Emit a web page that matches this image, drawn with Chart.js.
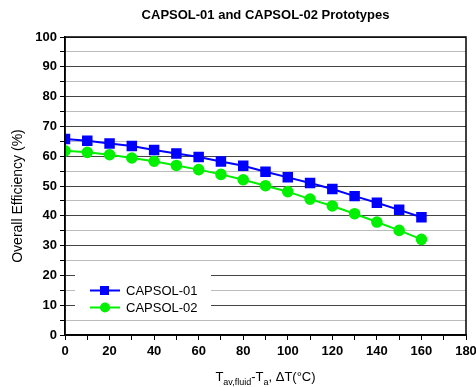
<!DOCTYPE html>
<html>
<head>
<meta charset="utf-8">
<script src="https://cdn.jsdelivr.net/npm/chart.js@4/dist/chart.umd.min.js"></script>
<style>
  html, body { margin: 0; padding: 0; background: #fff; }
  #wrap { width: 476px; height: 387px; }
</style>
</head>
<body>
<div id="wrap"><canvas id="myChart" width="476" height="387"></canvas></div>
<script>
// data
var deltaT = [0, 10, 20, 30, 40, 50, 60, 70, 80, 90, 100, 110, 120, 130, 140, 150, 160];
var capsol01 = [65.8, 65.2, 64.3, 63.4, 62.1, 60.9, 59.7, 58.2, 56.8, 54.8, 52.9, 51.0, 49.0, 46.6, 44.4, 42.0, 39.5];
var capsol02 = [61.8, 61.3, 60.5, 59.4, 58.3, 56.9, 55.5, 53.9, 52.1, 50.1, 48.1, 45.6, 43.3, 40.7, 37.9, 35.1, 32.1];
var seriesNames = ['CAPSOL-01', 'CAPSOL-02'];
var titleText = 'CAPSOL-01 and CAPSOL-02 Prototypes';
var yTitle = 'Overall Efficiency (%)';

var FONT = "Arial, 'Liberation Sans', Helvetica, sans-serif";

function toPoints(vals) {
    return vals.map(function (v, i) { return { x: deltaT[i], y: v }; });
}

// frame, legend box and axis titles (x one has subscripts)
var extras = {
    id: 'extras',
    afterDraw: function (chart) {
        var ctx = chart.ctx;
        var a = chart.chartArea;
        ctx.save();
        ctx.strokeStyle = '#000';
        ctx.lineWidth = 1.5;
        ctx.strokeRect(a.left, a.top, a.right - a.left, a.bottom - a.top);

        // legend
        ctx.fillStyle = '#fff';
        ctx.fillRect(a.left + 10, a.top + 237, 136, 42);
        chart.data.datasets.forEach(function (ds, i) {
            var y = a.top + 253.5 + i * 17;
            var x0 = a.left + 25, x1 = a.left + 55;
            ctx.strokeStyle = ds.borderColor;
            ctx.lineWidth = 2;
            ctx.beginPath();
            ctx.moveTo(x0, y);
            ctx.lineTo(x1, y);
            ctx.stroke();
            ctx.fillStyle = ds.backgroundColor;
            if (ds.pointStyle === 'rect') {
                ctx.fillRect(x0 + 10, y - 4.5, 9, 9);
            } else {
                ctx.beginPath();
                ctx.arc(x0 + 15, y, 5, 0, Math.PI * 2);
                ctx.fill();
            }
            ctx.fillStyle = '#000';
            ctx.font = '13px ' + FONT;
            ctx.textBaseline = 'middle';
            ctx.textAlign = 'left';
            ctx.fillText(ds.label, x1 + 6, y + 1);
        });

        // y axis title
        ctx.save();
        ctx.translate(18, 196);
        ctx.rotate(-Math.PI / 2);
        ctx.font = '14px ' + FONT;
        ctx.textAlign = 'center';
        ctx.textBaseline = 'middle';
        ctx.fillStyle = '#000';
        ctx.fillText(yTitle, 0, 0);
        ctx.restore();

        // x axis title: T_av,fluid-T_a, ΔT(°C)
        var parts = [
            ['T', 13, 0], ['av,fluid', 9, 4], ['-T', 13, 0], ['a', 9, 4], [', \u0394T(\u00b0C)', 13, 0]
        ];
        var total = 0;
        parts.forEach(function (p) {
            ctx.font = p[1] + 'px ' + FONT;
            p.push(ctx.measureText(p[0]).width);
            total += p[3];
        });
        var cx = (a.left + a.right) / 2 - total / 2;
        var by = 381;
        ctx.fillStyle = '#000';
        ctx.textAlign = 'left';
        ctx.textBaseline = 'alphabetic';
        parts.forEach(function (p) {
            ctx.font = p[1] + 'px ' + FONT;
            ctx.fillText(p[0], cx, by + p[2]);
            cx += p[3];
        });
        ctx.restore();
    }
};

var ctx = document.getElementById('myChart').getContext('2d');
var myChart = new Chart(ctx, {
    type: 'line',
    data: {
        datasets: [{
            label: seriesNames[0],
            data: toPoints(capsol01),
            borderColor: '#0000ff',
            backgroundColor: '#0000ff',
            borderWidth: 2,
            pointStyle: 'rect',
            pointRadius: 6,
            pointHoverRadius: 6,
            tension: 0
        }, {
            label: seriesNames[1],
            data: toPoints(capsol02),
            borderColor: '#00f000',
            backgroundColor: '#00f000',
            borderWidth: 2,
            pointStyle: 'circle',
            pointRadius: 4.8,
            pointHoverRadius: 4.8,
            tension: 0
        }]
    },
    options: {
        responsive: false,
        animation: false,
        events: [],
        layout: {
            padding: { left: 0, right: 10, top: 0, bottom: 0 }
        },
        plugins: {
            legend: { display: false },
            tooltip: { enabled: false },
            title: {
                display: true,
                fullSize: false,
                text: titleText,
                color: '#000',
                font: { family: FONT, size: 13, weight: 'bold', lineHeight: 1.2 },
                padding: { top: 8, bottom: 13.4 }
            }
        },
        scales: {
            x: {
                type: 'linear',
                min: 0,
                max: 180,
                grid: {
                    drawOnChartArea: false,
                    drawTicks: true,
                    tickLength: 5,
                    tickColor: '#000',
                    tickWidth: 1
                },
                border: { display: true, color: '#000', width: 1.5 },
                ticks: {
                    stepSize: 10,
                    autoSkip: false,
                    maxRotation: 0,
                    color: '#000',
                    padding: 4,
                    font: { family: FONT, size: 13, weight: 'bold' },
                    callback: function (v) { return v % 20 === 0 ? v : ''; }
                },
                afterFit: function (scale) {
                    scale.height = 52;
                    scale.paddingLeft = 0;
                    scale.paddingRight = 0;
                }
            },
            y: {
                min: 0,
                max: 100,
                grid: {
                    color: function (c) {
                        if (!c.tick) return '#000';
                        return c.tick.value % 10 === 0 ? '#444' : '#777';
                    },
                    lineWidth: 1,
                    tickLength: 5,
                    tickColor: '#000',
                    tickWidth: 1
                },
                border: {
                    display: true,
                    color: '#000',
                    width: 1.5,
                    dash: function (c) {
                        if (!c.tick) return [];
                        return c.tick.value % 10 === 0 ? [] : [1, 1];
                    }
                },
                ticks: {
                    stepSize: 5,
                    autoSkip: false,
                    color: '#000',
                    padding: 3,
                    font: { family: FONT, size: 13, weight: 'bold' },
                    callback: function (v) { return v % 10 === 0 ? v : ''; }
                },
                afterFit: function (scale) {
                    scale.width = 65;
                    scale.paddingTop = 0;
                    scale.paddingBottom = 0;
                }
            }
        }
    },
    plugins: [extras]
});
</script>
</body>
</html>
